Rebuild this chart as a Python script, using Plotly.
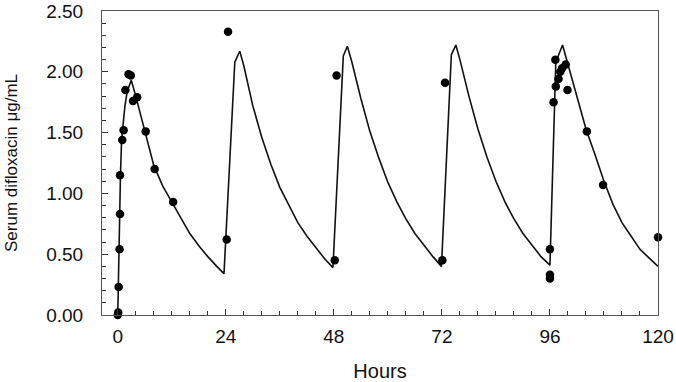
import plotly.graph_objects as go

# Fitted concentration curve (hours, µg/mL)
curve_hours = [0, 0.4, 0.6, 0.85, 1.05, 1.6, 2.1, 3.0, 4, 6, 8, 10, 12, 14, 16, 18, 20, 22, 23.6,
               26.0, 27.1, 28, 30, 32, 34, 36, 38, 40, 42, 44, 46, 47.8,
               50.1, 51.0, 52, 54, 56, 58, 60, 62, 64, 66, 68, 70, 71.9,
               74.1, 75.1, 76, 78, 80, 82, 84, 86, 88, 90, 92, 94, 96.0,
               97.3, 98.8, 100, 102, 104, 106, 108, 110, 112, 114, 116, 118, 120]
curve_conc = [0, 0.85, 1.15, 1.44, 1.52, 1.72, 1.84, 1.93, 1.80, 1.52, 1.23, 1.06, 0.93, 0.79, 0.67, 0.57, 0.48, 0.40, 0.34,
              2.08, 2.17, 2.05, 1.72, 1.46, 1.24, 1.05, 0.90, 0.76, 0.65, 0.55, 0.46, 0.39,
              2.13, 2.21, 2.08, 1.78, 1.51, 1.29, 1.09, 0.93, 0.79, 0.67, 0.57, 0.48, 0.40,
              2.14, 2.22, 2.10, 1.80, 1.53, 1.30, 1.10, 0.93, 0.79, 0.67, 0.57, 0.48, 0.41,
              2.08, 2.22, 2.06, 1.79, 1.53, 1.32, 1.10, 0.91, 0.76, 0.65, 0.54, 0.47, 0.40]

# Observed serum concentrations
obs_hours = [0, 0.1, 0.2, 0.4, 0.5, 0.5, 1.0, 1.3, 1.7, 2.4, 2.9, 3.4, 4.3, 6.2, 8.2, 12.3,
             24.2, 24.5,
             48.2, 48.6,
             72.1, 72.7,
             96, 96, 96, 96.8, 97.2, 97.3, 97.9, 98.3, 98.7, 99.5, 99.9, 104.2, 107.8,
             120]
obs_conc = [0.00, 0.02, 0.23, 0.54, 0.83, 1.15, 1.44, 1.52, 1.85, 1.98, 1.97, 1.76, 1.79, 1.51, 1.20, 0.93,
            0.62, 2.33,
            0.45, 1.97,
            0.45, 1.91,
            0.54, 0.33, 0.30, 1.75, 2.10, 1.88, 1.94, 2.00, 2.03, 2.06, 1.85, 1.51, 1.07,
            0.64]

fig = go.Figure()
fig.add_trace(go.Scatter(x=curve_hours, y=curve_conc, mode="lines",
                         line=dict(color="#111111", width=1.6), cliponaxis=False,
                         showlegend=False))
fig.add_trace(go.Scatter(x=obs_hours, y=obs_conc, mode="markers",
                         marker=dict(color="#000000", size=8.5), cliponaxis=False,
                         showlegend=False))

FAMILY = "Liberation Sans, Arial, sans-serif"
tick_font = dict(family=FAMILY, size=19, color="#111111")
xtitle_font = dict(family=FAMILY, size=20, color="#111111")
ytitle_font = dict(family=FAMILY, size=17, color="#111111")

fig.update_layout(
    width=676, height=382,
    margin=dict(l=102, r=18, t=11, b=67, autoexpand=False),
    paper_bgcolor="white", plot_bgcolor="white",
    font=tick_font,
    xaxis=dict(range=[-3.5, 120], tickmode="linear", tick0=0, dtick=24,
               ticks="inside", ticklen=6, tickcolor="#333333", tickwidth=1,
               minor=dict(dtick=4, tick0=0, ticks="inside", ticklen=4, tickcolor="#333333",
                          showgrid=False),
               showline=True, linecolor="#555555", linewidth=1, mirror=True,
               showgrid=False, zeroline=False, automargin=False,
               ticklabeloverflow="allow", ticklabelstandoff=4,
               title=dict(text="Hours", standoff=19, font=xtitle_font),
               tickfont=tick_font),
    yaxis=dict(range=[0, 2.5], tickmode="linear", tick0=0, dtick=0.5, tickformat=".2f",
               ticks="inside", ticklen=6, tickcolor="#333333", tickwidth=1,
               minor=dict(dtick=0.1, tick0=0, ticks="inside", ticklen=4, tickcolor="#333333",
                          showgrid=False),
               showline=True, linecolor="#555555", linewidth=1, mirror=True,
               showgrid=False, zeroline=False, automargin=False, ticklabelstandoff=14,
               title=dict(text="Serum difloxacin μg/mL", standoff=24, font=ytitle_font),
               tickfont=tick_font),
)

fig.write_html("out.html", config={"displayModeBar": False},
               post_script="document.body.style.margin='0';document.body.style.padding='0';")
